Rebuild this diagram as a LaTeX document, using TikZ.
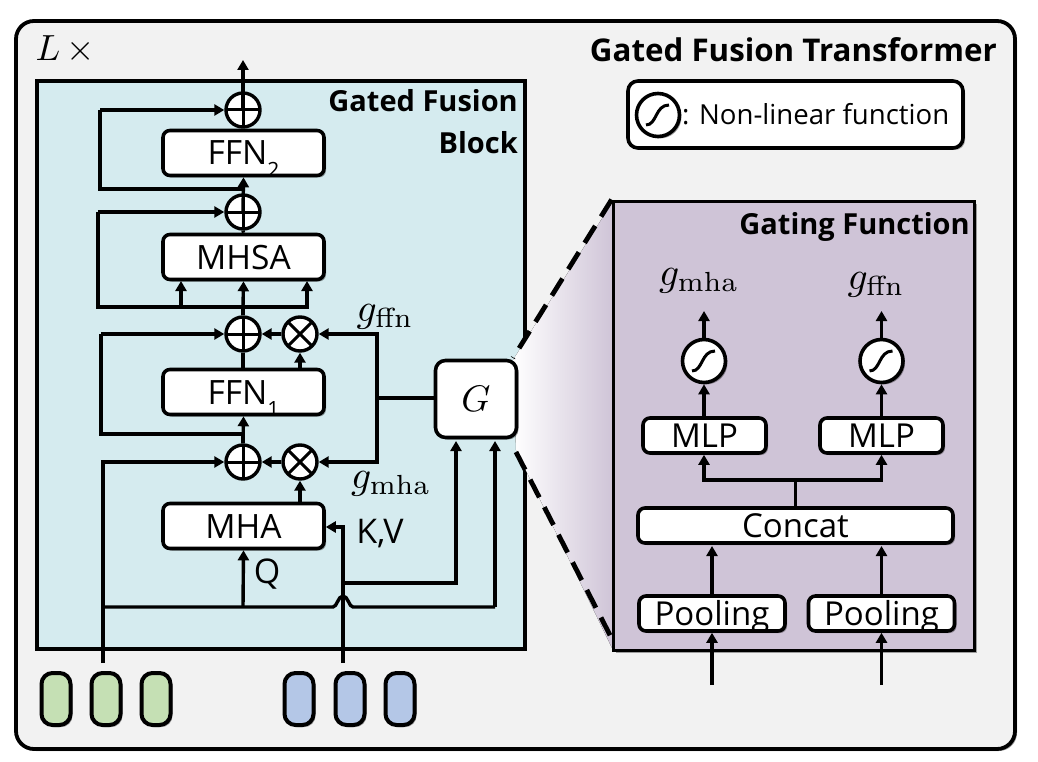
\documentclass[tikz,border=0pt]{standalone}
\usepackage[no-math]{fontspec}
\setmainfont{Open Sans}
\usetikzlibrary{arrows.meta,shadows,shapes.misc}
\definecolor{outerbg}{HTML}{F2F2F2}
\definecolor{tealbg}{HTML}{D5EBEF}
\definecolor{purplebg}{HTML}{CFC4D7}
\definecolor{greenpill}{HTML}{C5E0B4}
\definecolor{bluepill}{HTML}{B4C7E7}
\newcommand{\fs}[1]{\fontsize{#1}{#1}\selectfont}
\newcommand{\subd}[1]{\raisebox{-0.36em}{\fs{21}#1}}
\tikzset{
  x=1pt,y=-1pt,
  softshadow/.style={drop shadow={shadow xshift=2pt,shadow yshift=-2pt,fill=black,opacity=.35}},
  conn/.style={line width=3.4pt,-{Triangle[length=10pt,width=11pt]}},
  line/.style={line width=3.4pt},
  panel/.style={draw=black,line width=3.8pt,softshadow,inner sep=0pt},
  blockbox/.style={draw=black,fill=white,line width=3.6pt,rounded corners=7pt,inner sep=0pt,softshadow},
  bigbox/.style={blockbox,minimum width=161pt,minimum height=45pt,font=\fs{33.5},text height=24pt,text depth=0pt},
  smallbox/.style={blockbox,minimum height=35pt,font=\fs{33},text height=23.5pt,text depth=0pt},
  clipbox/.style={blockbox,minimum height=35pt},
  addop/.style={circle,draw=black,fill=white,line width=3.4pt,minimum size=34pt,inner sep=0pt,
    path picture={\draw[line width=3pt] (path picture bounding box.north)--(path picture bounding box.south)
      (path picture bounding box.west)--(path picture bounding box.east);}},
  mulop/.style={circle,draw=black,fill=white,line width=3.4pt,minimum size=34pt,inner sep=0pt,
    path picture={\draw[line width=3pt] (-12,-12)--(12,12) (-12,12)--(12,-12);}},
  sigop/.style={circle,draw=black,fill=white,line width=3.6pt,minimum size=43pt,inner sep=0pt,softshadow,
    path picture={\draw[line width=3pt] (-12,10) .. controls (-1,10) and (-3,-10) .. (11,-10);}},
  pill/.style={draw=black,line width=4pt,rounded corners=11pt,minimum width=29pt,minimum height=52pt,inner sep=0pt,softshadow},
  title/.style={font=\fs{29}\bfseries,anchor=east,inner sep=0pt},
  mathlab/.style={inner sep=0pt,scale=3.95},
  plain/.style={font=\fs{34},inner sep=0pt}
}
\begin{document}
\begin{tikzpicture}
\useasboundingbox (0,0) rectangle (1038,762);
% outer
\node[panel,fill=outerbg,rounded corners=18pt,minimum width=999pt,minimum height=728pt] (outer) at (515.5,385) {};
% teal block
\node[panel,fill=tealbg,minimum width=488pt,minimum height=568pt] (block) at (281,365) {};
% zoom gradient
\fill[left color=white,right color=purplebg] (513,360) -- (613,201) -- (613,650) -- (516,450) -- cycle;
% gating panel
\node[panel,fill=purplebg,minimum width=361pt,minimum height=449pt] (gate) at (794,426) {};
\coordinate (zt) at (gate.north west);
\coordinate (zb) at (gate.south west);
% legend
\node[blockbox,rounded corners=10pt,minimum width=335pt,minimum height=67pt] (legend) at (795.5,114.5) {};
\node[sigop] (legsig) at (658,115) {};
\node[plain,font=\fs{27.6},anchor=west] (legtxt) at (682,114) {: Non-linear function};
% titles
\node[title,font=\fs{31.3}\bfseries] (t1) at (997,50) {Gated Fusion Transformer};
\node[title] (t2) at (518,101) {Gated Fusion};
\node[title] (t3) at (518,143) {Block};
\node[title] (t4) at (970,226.5) {Gating Function};
\node[mathlab,scale=.92,anchor=west] (lx) at (35,50) {$L\,\times$};
% left column
\node[addop] (a1) at (243,110) {};
\node[bigbox] (ffn2) at (243.5,153) {FFN\subd{2}};
\node[addop] (a2) at (243,212) {};
\node[bigbox] (mhsa) at (243.5,257) {MHSA};
\node[addop] (a3) at (243,334) {};
\node[mulop] (m3) at (300,334) {};
\node[bigbox] (ffn1) at (243.5,392) {FFN\subd{1}};
\node[addop] (a4) at (243,462) {};
\node[mulop] (m4) at (300,462) {};
\node[bigbox] (mha) at (243.5,526) {MHA};
\node[blockbox,rounded corners=10pt,minimum width=81pt,minimum height=77pt] (G) at (476,399) {\scalebox{3.7}{$G$}};
% labels
\node[mathlab] (gf) at (385,317) {$g_{\mathrm{ffn}}$};
\node[mathlab] (gm) at (391,484) {$g_{\mathrm{mha}}$};
\node[plain] (kv) at (380,534) {K,V};
\node[plain] (q) at (267,574) {Q};
% pills
\node[pill,fill=greenpill] (p1) at (56,699) {};
\node[pill,fill=greenpill] (p2) at (106,699) {};
\node[pill,fill=greenpill] (p3) at (156,699) {};
\node[pill,fill=bluepill] (p4) at (299,699) {};
\node[pill,fill=bluepill] (p5) at (350,699) {};
\node[pill,fill=bluepill] (p6) at (400,699) {};
% coordinates
\coordinate (top) at (243,60);
\coordinate (j1) at (243,189);
\coordinate (c1a) at (100,189);
\coordinate (c1b) at (100,110);
\coordinate (j2) at (243,307);
\coordinate (c2a) at (98,307);
\coordinate (c2b) at (98,212);
\coordinate (j3) at (243,434);
\coordinate (c3a) at (101,434);
\coordinate (c3b) at (101,334);
\coordinate (qs) at (103,663);
\coordinate (qc) at (103,462);
\coordinate (kvs) at (343,663);
\coordinate (kvc) at (343,527);
\coordinate (gj) at (377,398);
\coordinate (gt) at (377,334);
\coordinate (gb) at (377,462);
\coordinate (qh) at (103,607);
\coordinate (kvh) at (343,583);
\coordinate (kvg) at (456,583);
\coordinate (qg) at (495,607);
\coordinate (qin) at (243,607);
\coordinate (G1) at (456,441);
\coordinate (G2) at (495,441);
% vertical flow
\draw[conn] (a1.center) -- (top);
\draw[line] (ffn2.north -| a1) -- (a1.south);
\draw[conn] (a2.center) -- (ffn2.south);
\draw[line] (mhsa.north) -- (a2.south);
\draw[conn] (j2) -- (mhsa.south);
\draw[line] (a3.north) -- (j2);
\draw[conn] (a4.north) -- (ffn1.south);
\draw[conn] (qin) -- (mha.south);
% skips
\draw[line] (j1) -- (c1a) -- (c1b);
\draw[conn] (c1b) -- (a1.west);
\draw[line] (j2) -- (c2a) -- (c2b);
\draw[conn] (c2b) -- (a2.west);
\coordinate (j2l) at (181,307);
\coordinate (j2r) at (307,307);
\draw[conn] (j2l) -- (181,281);
\draw[conn] (j2) -- (j2r) -- (307,281);
\draw[line] (j3) -- (c3a) -- (c3b);
\draw[conn] (c3b) -- (a3.west);
\draw[line] (a3.south) -- (ffn1.north -| a3);
\draw[line] (a4.north) -- (j3);
\draw[conn] (qs) -- (qc) -- (a4.west);
% mul
\draw[conn] (m3.west) -- (a3.east);
\draw[conn] (m4.west) -- (a4.east);
\draw[conn] (ffn1.north -| m3) -- (m3.south);
\draw[conn] (mha.north -| m4) -- (m4.south);
\draw[conn] (gj) -- (gt) -- (m3.east);
\draw[conn] (gj) -- (gb) -- (m4.east);
\draw[line] (G.west |- gj) -- (gj);
% KV and Q
\draw[line] (qh) -- (333,607) .. controls (337,607) and (338,596) .. (343,596) .. controls (348,596) and (349,607) .. (353,607) -- (qg);
\draw[conn] (qg) -- (G2);
\draw[conn] (kvs) -- (kvc) -- (mha.east |- kvc);
\draw[conn] (kvh) -- (kvg) -- (G1);
% dashed zoom lines
\draw[line width=4.8pt,dash pattern=on 20pt off 11pt] (zt) -- (513,358);
\draw[line width=4.8pt,dash pattern=on 20pt off 11pt] (516,452) -- (613,641);
% gating internals
\node[mathlab] (og1) at (699,281) {$g_{\mathrm{mha}}$};
\node[mathlab] (og2) at (876,285) {$g_{\mathrm{ffn}}$};
\node[sigop] (s1) at (704,361) {};
\node[sigop] (s2) at (881.5,361) {};
\node[smallbox,minimum width=123pt] (mlp1) at (704.5,435.5) {MLP};
\node[smallbox,minimum width=123pt] (mlp2) at (881.5,435.5) {MLP};
\node[smallbox,minimum width=315pt] (concat) at (795.5,525.5) {Concat};
\node[clipbox,minimum width=146pt,path picture={\node[font=\fs{33},anchor=base,inner sep=0pt] at (0,12) {Pooling};}] (pool1) at (712,613.5) {};
\node[clipbox,minimum width=146pt,path picture={\node[font=\fs{33},anchor=base,inner sep=0pt] at (0,12) {Pooling};}] (pool2) at (881.5,613.5) {};
\coordinate (o1) at (704,311);
\coordinate (o2) at (881.5,311);
\coordinate (split) at (795.5,480);
\coordinate (in1) at (712,685);
\coordinate (in2) at (881.5,685);
\draw[conn] (s1.north) -- (o1);
\draw[conn] (s2.north) -- (o2);
\draw[conn] (mlp1.north -| s1) -- (s1.south);
\draw[conn] (mlp2.north -| s2) -- (s2.south);
\draw[line] (concat.north -| split) -- (split);
\draw[conn] (split) -| (mlp1.south -| s1);
\draw[conn] (split) -| (mlp2.south -| s2);
\draw[conn] (pool1.north) -- (712,546);
\draw[conn] (pool2.north) -- (881.5,546);
\draw[conn] (in1) -- (pool1.south);
\draw[conn] (in2) -- (pool2.south);
\end{tikzpicture}
\end{document}
